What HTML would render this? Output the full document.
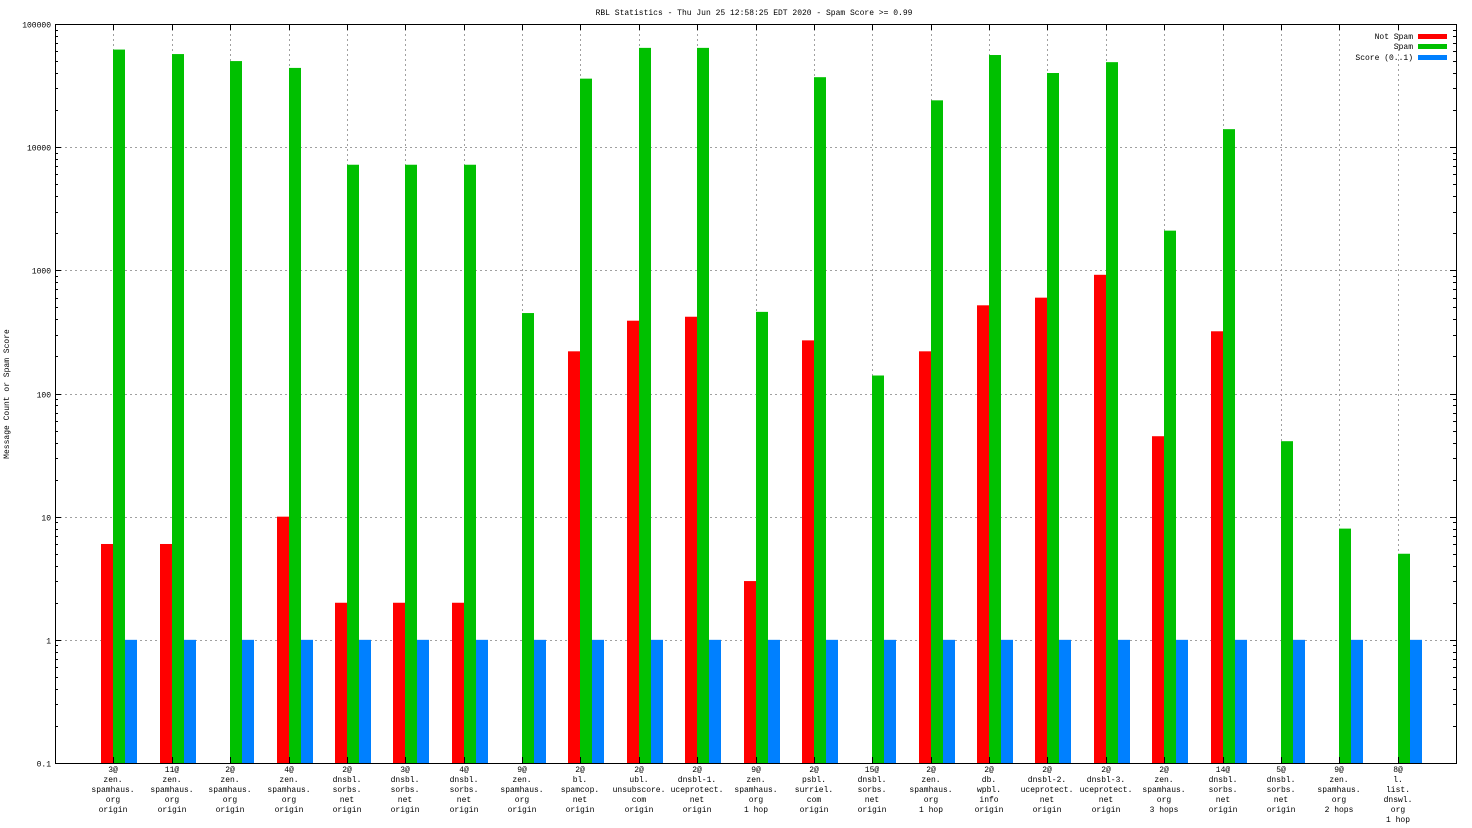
<!DOCTYPE html>
<html><head><meta charset="utf-8"><style>
html,body{margin:0;padding:0;background:#fff}
svg{display:block}
text{font-family:"Liberation Mono","DejaVu Sans Mono",monospace;font-size:8px;fill:#000}
</style></head><body>
<svg id="chart" width="1472" height="828">
<text x="754" y="15" text-anchor="middle">RBL Statistics - Thu Jun 25 12:58:25 EDT 2020 - Spam Score &gt;= 0.99</text>
<text transform="translate(9,394) rotate(-90)" text-anchor="middle">Message Count or Spam Score</text>
<g id="grid"></g><g id="bars"></g><g id="axes"></g>
<g>
<text x="1413" y="39" text-anchor="end">Not Spam</text>
<rect x="1418" y="34" width="29" height="5" fill="#ff0000"/>
<text x="1413" y="49" text-anchor="end">Spam</text>
<rect x="1418" y="44" width="29" height="5" fill="#00c000"/>
<text x="1413" y="60" text-anchor="end">Score (0..1)</text>
<rect x="1418" y="55" width="29" height="5" fill="#0080ff"/>
</g>
</svg>
<script>
const categories=[
["3@","zen.","spamhaus.","org","origin"],["11@","zen.","spamhaus.","org","origin"],["2@","zen.","spamhaus.","org","origin"],["4@","zen.","spamhaus.","org","origin"],
["2@","dnsbl.","sorbs.","net","origin"],["3@","dnsbl.","sorbs.","net","origin"],["4@","dnsbl.","sorbs.","net","origin"],["9@","zen.","spamhaus.","org","origin"],
["2@","bl.","spamcop.","net","origin"],["2@","ubl.","unsubscore.","com","origin"],["2@","dnsbl-1.","uceprotect.","net","origin"],["9@","zen.","spamhaus.","org","1 hop"],
["2@","psbl.","surriel.","com","origin"],["15@","dnsbl.","sorbs.","net","origin"],["2@","zen.","spamhaus.","org","1 hop"],["2@","db.","wpbl.","info","origin"],
["2@","dnsbl-2.","uceprotect.","net","origin"],["2@","dnsbl-3.","uceprotect.","net","origin"],["2@","zen.","spamhaus.","org","3 hops"],["14@","dnsbl.","sorbs.","net","origin"],
["5@","dnsbl.","sorbs.","net","origin"],["9@","zen.","spamhaus.","org","2 hops"],["8@","l.","list.","dnswl.","org","1 hop"]];
const notSpam=[6,6,0,10,2,2,2,0,220,390,420,3,270,0,220,520,600,920,45,320,0,0,0];
const spam=[62000,57000,50000,44000,7200,7200,7200,450,36000,64000,64000,460,37000,140,24000,56000,40000,49000,2100,14000,41,8,5];
const score=[1,1,1,1,1,1,1,1,1,1,1,1,1,1,1,1,1,1,1,1,1,1,1];
const yTicks=[0.1,1,10,100,1000,10000,100000];
const yTickLabels=["0.1","1","10","100","1000","10000","100000"];
const L=55,R=1456,T=24,B=763;
const xScale=i=>L+(i+1)*(R-L)/24;
const yScale=v=>B-(Math.log10(v)-(-1))/6*(B-T);
const NS="http://www.w3.org/2000/svg";
function mk(tag,attrs,parent){const e=document.createElementNS(NS,tag);for(const k in attrs)e.setAttribute(k,attrs[k]);parent.appendChild(e);return e;}
const grid=document.getElementById('grid'),bars=document.getElementById('bars'),axes=document.getElementById('axes');
yTicks.forEach((v,k)=>{const y=Math.round(yScale(v))+0.5;
 if(k>0&&k<yTicks.length-1){const g=mk('line',{x1:L,x2:R,y1:y,y2:y,stroke:'#a0a0a0','stroke-dasharray':'2,3'},grid);
 
 }
 const t=mk('text',{x:L-4,y:y+3,'text-anchor':'end'},axes);t.textContent=yTickLabels[k];
 
 
 mk('line',{x1:L,x2:L+6,y1:y,y2:y,stroke:'#000'},axes);mk('line',{x1:R-6,x2:R,y1:y,y2:y,stroke:'#000'},axes);
 if(k<yTicks.length-1)for(let m=2;m<10;m++){const ym=Math.round(yScale(v*m))+0.5;mk('line',{x1:L,x2:L+3,y1:ym,y2:ym,stroke:'#000'},axes);mk('line',{x1:R-3,x2:R,y1:ym,y2:ym,stroke:'#000'},axes);}
});
const bw=12;
categories.forEach((c,i)=>{const x=Math.round(xScale(i));
 const g=mk('line',{x1:x+0.5,x2:x+0.5,y1:T,y2:B,stroke:'#a0a0a0','stroke-dasharray':'2,3'},grid);
 
 
 mk('line',{x1:x+0.5,x2:x+0.5,y1:B-6,y2:B,stroke:'#000'},axes);mk('line',{x1:x+0.5,x2:x+0.5,y1:T,y2:T+6,stroke:'#000'},axes);
 const series=[[notSpam[i],'#ff0000',-bw,'bar-not-spam'],[spam[i],'#00c000',0,'bar-spam'],[score[i],'#0080ff',bw,'bar-score']];
 series.forEach(s=>{if(s[0]>0.1){const y=yScale(s[0]);const r=mk('rect',{x:x+s[2],y:y,width:bw,height:B-y,fill:s[1]},bars);
  
  }});
 c.forEach((line,j)=>{const t=mk('text',{x:x,y:772+j*10,'text-anchor':'middle'},axes);t.textContent=line;
  
  });
});
const f=mk('rect',{x:L+0.5,y:T+0.5,width:R-L,height:B-T,fill:'none',stroke:'#000'},axes);


</script>
</body></html>
